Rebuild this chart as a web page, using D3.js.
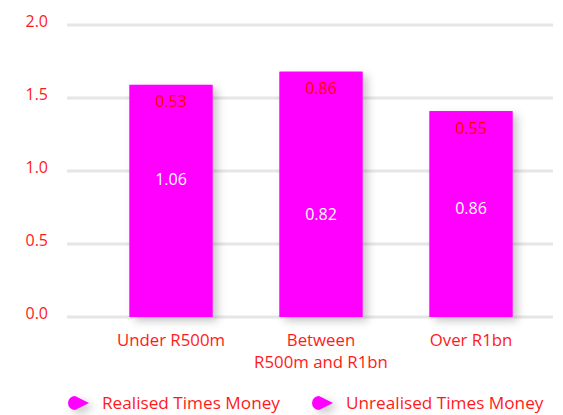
<!DOCTYPE html>
<html><head><meta charset="utf-8">
<script src="https://cdn.jsdelivr.net/npm/d3@7"></script>
<style>body{margin:0;background:#fff}svg{display:block}text{font-family:"Open Sans",sans-serif}</style>
</head><body><svg id="c" width="563" height="415"></svg>
<script>
const categories = [["Under R500m"], ["Between", "R500m and R1bn"], ["Over R1bn"]];
const realised = [1.06, 0.82, 0.86];
const unrealised = [0.53, 0.86, 0.55];
const yTicks = [0, 0.5, 1.0, 1.5, 2.0];
const seriesNames = ["Realised Times Money", "Unrealised Times Money"];

const svg = d3.select("#c");
const red = "#ff1a1a", mag = "#ff00ff";
const defs = svg.append("defs");
const f = defs.append("filter").attr("id","sh").attr("x","-30%").attr("y","-30%").attr("width","170%").attr("height","170%");
f.append("feDropShadow").attr("dx",5).attr("dy",4).attr("stdDeviation",4).attr("flood-color","#000").attr("flood-opacity",0.22);

const keys = categories.map(c => c.join(" "));
const x = d3.scaleBand().domain(keys).range([96, 546]).paddingInner(0.447).paddingOuter(0.2235);
const y = d3.scaleLinear().domain([0, 2]).range([317, 25]);

// grid
svg.append("g").selectAll("line").data(yTicks).join("line")
  .attr("x1", 67).attr("x2", 553).attr("y1", d => y(d)).attr("y2", d => y(d))
  .attr("stroke", "#e6e6e6").attr("stroke-width", 3);

// y axis labels
const yAxis = d3.axisLeft(y).tickValues(yTicks).tickFormat(d3.format(".1f")).tickSize(0).tickPadding(0);
const ya = svg.append("g").attr("transform", "translate(48,0)").call(yAxis);
ya.select(".domain").remove();
ya.selectAll("text").attr("fill", red).attr("font-size", 16).attr("font-family", '"Open Sans",sans-serif').attr("dy","0.1em");

// stacked data
const data = keys.map((k, i) => ({key: k, r: realised[i], u: unrealised[i]}));
const stack = d3.stack().keys(["r", "u"])(data);

const g = svg.append("g");
g.selectAll("rect.full").data(data).join("rect")
  .attr("x", d => x(d.key)).attr("width", x.bandwidth())
  .attr("y", d => y(d.r + d.u)).attr("height", d => y(0) - y(d.r + d.u))
  .attr("fill", mag).attr("filter", "url(#sh)");
stack.forEach((s, si) => {
  g.selectAll("rect.s" + si).data(s).join("rect")
    .attr("x", d => x(d.data.key)).attr("width", x.bandwidth())
    .attr("y", d => y(d[1])).attr("height", d => y(d[0]) - y(d[1]))
    .attr("fill", mag);
  g.selectAll("text.l" + si).data(s).join("text")
    .attr("x", d => x(d.data.key) + x.bandwidth() / 2)
    .attr("y", d => y(d[1]) + 17).attr("dy", "0.35em")
    .attr("text-anchor", "middle").attr("font-size", 16)
    .attr("fill", si === 0 ? "#fff" : "#ff0000")
    .text(d => (d[1] - d[0]).toFixed(2));
});

// x labels
const xl = svg.append("g").selectAll("text").data(categories).join("text")
  .attr("x", (d, i) => x(keys[i]) + x.bandwidth() / 2).attr("y", 340)
  .attr("text-anchor", "middle").attr("font-size", 16.8).attr("fill", red);
xl.selectAll("tspan").data(d => d).join("tspan")
  .attr("x", function(){ return this.parentNode.getAttribute("x"); })
  .attr("dy", (d, i) => i === 0 ? "0.35em" : "22px").text(d => d);

// legend
const lx = [67, 311];
const lg = svg.append("g").selectAll("g").data(seriesNames).join("g")
  .attr("transform", (d, i) => `translate(${lx[i]},403)`);
lg.append("path").attr("d", "M8,-7 A7,7 0 1,0 8,7 L22,0 Z").attr("fill", mag).attr("filter", "url(#sh)");
lg.append("text").attr("x", 35).attr("dy", "0.35em").attr("font-size", 17.2).attr("fill", red).text(d => d);
</script></body></html>
